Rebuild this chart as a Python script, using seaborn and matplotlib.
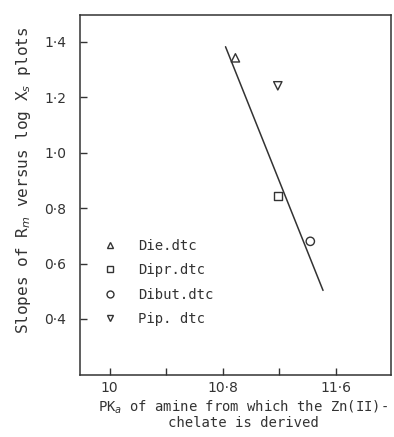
import numpy as np
import pandas as pd
import matplotlib
matplotlib.use("Agg")
import matplotlib.pyplot as plt
from matplotlib.lines import Line2D
from matplotlib.ticker import FixedLocator, FixedFormatter
import seaborn as sns

# Data
chelates = ["Die.dtc", "Dipr.dtc", "Dibut.dtc", "Pip. dtc"]
pka = [10.89, 11.19, 11.42, 11.19]
slopes = [1.342, 0.843, 0.68, 1.241]
marker_map = {"Die.dtc": "^", "Dipr.dtc": "s", "Dibut.dtc": "o", "Pip. dtc": "v"}

# Fitted line end points
fit_x = [10.82, 11.51]
fit_y = [1.382, 0.503]

x_ticks = [10.0, 10.4, 10.8, 11.2, 11.6]
x_labels = ["10", "", "10·8", "", "11·6"]
y_ticks = [0.4, 0.6, 0.8, 1.0, 1.2, 1.4]
y_labels = ["0·4", "0·6", "0·8", "1·0", "1·2", "1·4"]

INK = "#333333"
MONO = "DejaVu Sans Mono"


def main():
    sns.set_style("ticks")
    plt.rcParams["font.family"] = ["DejaVu Sans"]
    plt.rcParams["mathtext.fontset"] = "dejavusans"
    df = pd.DataFrame({"chelate": chelates, "pka": pka, "slope": slopes})

    fig = plt.figure(figsize=(3.94, 4.37), dpi=100)
    ax = fig.add_axes([0.203, 0.142, 0.789, 0.824])

    sns.lineplot(x=fit_x, y=fit_y, ax=ax, color=INK, linewidth=1.1)
    for name, sub in df.groupby("chelate"):
        sns.scatterplot(data=sub, x="pka", y="slope", ax=ax, marker=marker_map[name],
                        s=36, facecolor="none", edgecolor=INK, linewidth=1.0,
                        legend=False)

    ax.set_xlim(9.79, 11.99)
    ax.set_ylim(0.198, 1.497)
    ax.xaxis.set_major_locator(FixedLocator(x_ticks))
    ax.xaxis.set_major_formatter(FixedFormatter(x_labels))
    ax.yaxis.set_major_locator(FixedLocator(y_ticks))
    ax.yaxis.set_major_formatter(FixedFormatter(y_labels))
    ax.tick_params(direction="in", length=5, width=1, colors=INK, labelsize=10)
    ax.tick_params(axis="y", pad=10)
    ax.tick_params(axis="x", pad=4)
    for sp in ax.spines.values():
        sp.set_color(INK)
        sp.set_linewidth(1.1)

    ax.set_xlabel("PK$_a$ of amine from which the Zn(II)-\nchelate is derived",
                  fontsize=10, color=INK, linespacing=1.0, family=MONO)
    ax.xaxis.set_label_coords(0.524, -0.066)
    ax.set_ylabel("Slopes of R$_m$ versus log X$_s$ plots",
                  fontsize=11.5, color=INK, family=MONO)
    ax.yaxis.set_label_coords(-0.15, 0.54)

    handles = [Line2D([], [], linestyle="none", marker=marker_map[c], markersize=5,
                      markerfacecolor="none", markeredgecolor=INK) for c in chelates]
    ax.legend(handles, chelates, loc="upper left", bbox_to_anchor=(0.03, 0.413),
              frameon=False, prop={"family": MONO, "size": 10}, labelspacing=0.75,
              handletextpad=1.4, handlelength=1.2, labelcolor=INK)

    fig.savefig("out.png", dpi=100)


if __name__ == "__main__":
    main()
